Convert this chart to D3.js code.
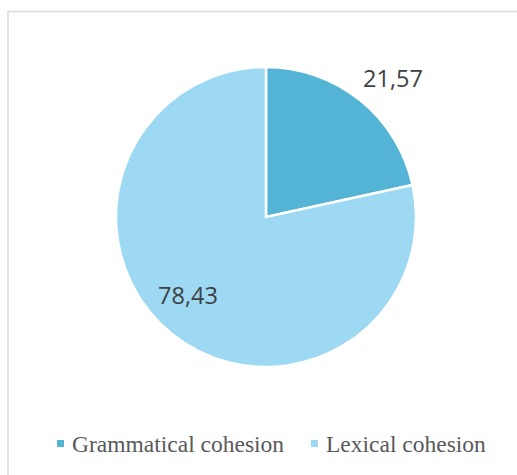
<!DOCTYPE html>
<html><head><meta charset="utf-8">
<script src="https://cdn.jsdelivr.net/npm/d3@7"></script>
<style>html,body{margin:0;padding:0;background:#fff;}</style>
</head><body>
<svg id="chart" width="517" height="475"></svg>
<script>
const categories = ["Grammatical cohesion", "Lexical cohesion"];
const values = [21.57, 78.43];
const valueLabels = ["21,57", "78,43"];
const colors = ["#53B4D6", "#9DD9F3"];

const svg = d3.select("#chart");
svg.append("rect").attr("x", 8).attr("y", 11.5).attr("width", 520).attr("height", 480)
  .attr("fill", "#fff").attr("stroke", "#d9d9d9").attr("stroke-width", 1.5);

const cx = 266, cy = 217, r = 150;
const g = svg.append("g").attr("transform", `translate(${cx},${cy})`);
const pie = d3.pie().sort(null).value(d => d)(values);
const arc = d3.arc().innerRadius(0).outerRadius(r);
g.selectAll("path").data(pie).enter().append("path")
  .attr("d", arc).attr("fill", (d, i) => colors[i])
  .attr("stroke", "#fff").attr("stroke-width", 2.5).attr("stroke-linejoin", "miter");

const labelPos = [[127, -139], [-78, 78]];
g.selectAll("text.lbl").data(pie).enter().append("text")
  .attr("x", (d, i) => labelPos[i][0]).attr("y", (d, i) => labelPos[i][1])
  .attr("text-anchor", "middle").attr("dominant-baseline", "central")
  .attr("font-family", "Open Sans, sans-serif").attr("font-size", 23.5)
  .attr("fill", "#404040").text((d, i) => valueLabels[i]);

const legendX = [57, 311];
const lg = svg.append("g");
categories.forEach((c, i) => {
  lg.append("rect").attr("x", legendX[i]).attr("y", 440).attr("width", 7).attr("height", 7).attr("fill", colors[i]);
  lg.append("text").attr("x", legendX[i] + 15).attr("y", 452)
    .attr("font-family", "Liberation Serif, Times New Roman, serif").attr("font-size", 23.5)
    .attr("fill", "#595959").text(c);
});
</script>
</body></html>
